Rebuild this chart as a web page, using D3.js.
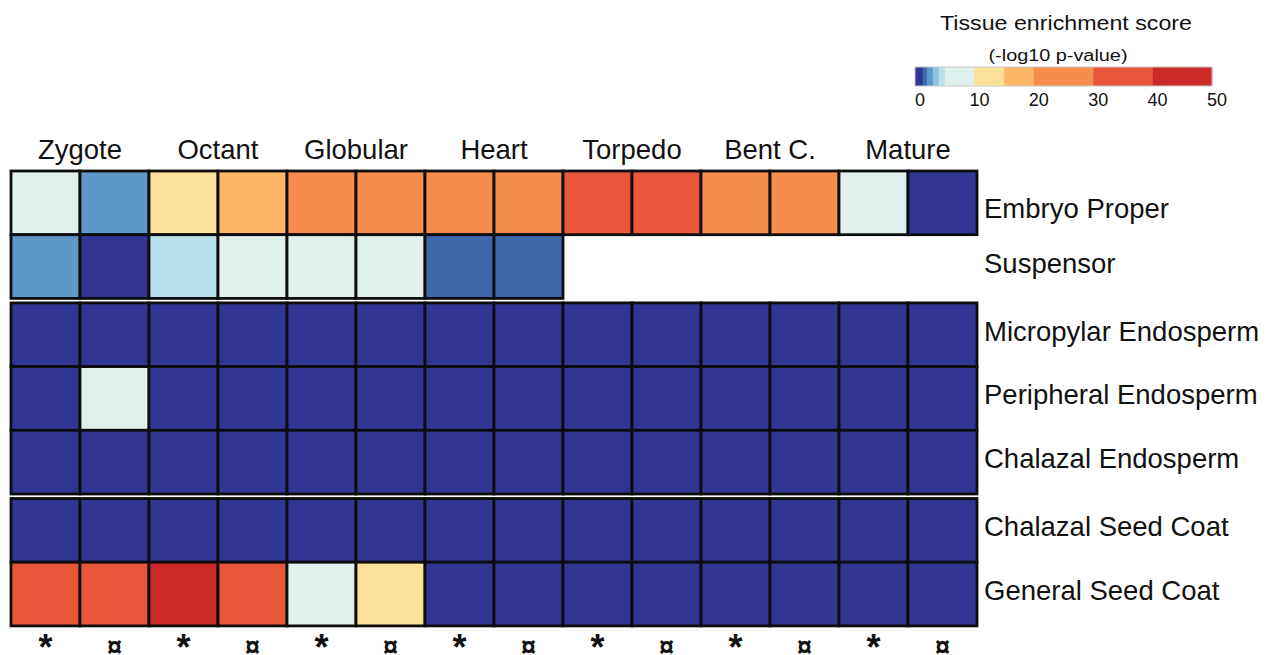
<!DOCTYPE html>
<html>
<head>
<meta charset="utf-8">
<script src="https://cdn.jsdelivr.net/npm/d3@7"></script>
<style>
  html, body { margin: 0; padding: 0; background: #fff; }
  svg { display: block; font-family: "Liberation Sans", Arial, Helvetica, sans-serif; }
</style>
</head>
<body>
<svg id="chart" width="1272" height="655"></svg>
<script>
// Developmental stages; each stage has two samples, marked * and ¤
const stages = ["Zygote", "Octant", "Globular", "Heart", "Torpedo", "Bent C.", "Mature"];
const sampleMarks = ["*", "¤"];
const columns = stages.flatMap(s => sampleMarks.map(m => `${s} ${m}`));

// Tissues, grouped into embryo / endosperm / seed coat blocks
const embryoTissues = ["Embryo Proper", "Suspensor"];
const endospermTissues = ["Micropylar Endosperm", "Peripheral Endosperm", "Chalazal Endosperm"];
const seedCoatTissues = ["Chalazal Seed Coat", "General Seed Coat"];
const tissueGroups = [embryoTissues, endospermTissues, seedCoatTissues];

// Tissue enrichment scores (-log10 p-value), one value per column; null = not sampled
const embryoProper        = [7, 2.5, 12, 17, 25, 25, 24, 24, 34, 35, 26, 25, 6, 0.5];
const suspensor           = [2.5, 0.8, 4.5, 7, 6.5, 6, 1.7, 1.6, null, null, null, null, null, null];
const micropylarEndosperm = [0, 0, 0, 0, 0, 0, 0, 0, 0, 0, 0, 0, 0, 0];
const peripheralEndosperm = [0, 6, 0, 0, 0, 0, 0, 0, 0, 0, 0, 0, 0, 0];
const chalazalEndosperm   = [0, 0, 0, 0, 0, 0, 0, 0, 0, 0, 0, 0, 0, 0];
const chalazalSeedCoat    = [0, 0, 0, 0, 0, 0, 0, 0, 0, 0, 0, 0, 0, 0];
const generalSeedCoat     = [33, 32, 43, 31, 7, 13, 0, 0, 0, 0, 0, 0, 0, 0];
const seriesValues = [embryoProper, suspensor, micropylarEndosperm, peripheralEndosperm,
                      chalazalEndosperm, chalazalSeedCoat, generalSeedCoat];

// Colour key
const scoreThresholds = [1.3, 2, 3, 4, 5, 10, 15, 20, 30, 40];
const scoreColors = ["#313593", "#3f67ac", "#5f97c6", "#8cc3de", "#b9e0ed", "#e0f0ec",
                     "#fce098", "#fdb667", "#f78c4f", "#e8573a", "#cc2a28"];
const legendTicks = [0, 10, 20, 30, 40, 50];
const legendDomain = [0, 50];

const svg = d3.select("#chart");
svg.append("rect").attr("width", 1272).attr("height", 655).attr("fill", "#fff");

const color = d3.scaleThreshold().domain(scoreThresholds).range(scoreColors);

// Layout
const x = d3.scaleBand().domain(columns).range([11, 977]).padding(0);
const rowHeight = 63.7, groupGap = 4.5, gridTop = 171;
const rows = [];
tissueGroups.forEach((g, gi) => g.forEach(t => rows.push({ tissue: t, group: gi })));
const slot = d3.scaleLinear().domain([0, rows.length]).range([gridTop, gridTop + rows.length * rowHeight]);
rows.forEach((r, i) => { r.y = slot(i) + r.group * groupGap; r.values = seriesValues[i]; });

// Heatmap cells
const cells = rows.flatMap(r => r.values.map((v, ci) => ({ row: r, col: columns[ci], value: v })))
  .filter(d => d.value !== null);

svg.append("g").selectAll("rect").data(cells).join("rect")
  .attr("x", d => x(d.col))
  .attr("y", d => d.row.y)
  .attr("width", x.bandwidth())
  .attr("height", rowHeight)
  .attr("fill", d => color(d.value))
  .attr("stroke", "#0d0d0d")
  .attr("stroke-width", 2.8);

// Stage headers, centred over each pair of columns
svg.append("g").selectAll("text").data(stages).join("text")
  .attr("x", (s, i) => x(columns[2 * i]) + x.bandwidth())
  .attr("y", 159)
  .attr("text-anchor", "middle")
  .attr("font-size", 27.5)
  .attr("fill", "#111")
  .text(d => d);

// Tissue labels (the first label sits a little lower in its row)
svg.append("g").selectAll("text").data(rows).join("text")
  .attr("x", 984)
  .attr("y", (d, i) => d.y + rowHeight / 2 + (i === 0 ? 15 : 6))
  .attr("font-size", 27.5)
  .attr("fill", "#111")
  .text(d => d.tissue);

// Sample marks under each column
svg.append("g").selectAll("text").data(columns).join("text")
  .attr("x", d => x(d) + x.bandwidth() / 2)
  .attr("y", (d, i) => i % 2 === 0 ? 660 : 656)
  .attr("text-anchor", "middle")
  .attr("font-weight", "bold")
  .attr("font-size", (d, i) => i % 2 === 0 ? 36 : 27)
  .attr("fill", "#111")
  .text(d => d.split(" ").pop());

// Colour key
const lx = d3.scaleLinear().domain(legendDomain).range([915, 1212]);
const bounds = [legendDomain[0], ...scoreThresholds, legendDomain[1]];
const segments = scoreColors.map((c, i) => ({ from: bounds[i], to: bounds[i + 1], color: c }));
const key = svg.append("g");
key.selectAll("rect.seg").data(segments).join("rect")
  .attr("class", "seg")
  .attr("x", d => lx(d.from))
  .attr("y", 67)
  .attr("width", d => lx(d.to) - lx(d.from) + 0.3)
  .attr("height", 19)
  .attr("fill", d => d.color);
key.append("rect")
  .attr("x", lx(legendDomain[0])).attr("y", 67)
  .attr("width", lx(legendDomain[1]) - lx(legendDomain[0])).attr("height", 19)
  .attr("fill", "none").attr("stroke", "#c8c8c8").attr("stroke-width", 1);

key.selectAll("text.tick").data(legendTicks).join("text")
  .attr("class", "tick")
  .attr("x", d => lx(d) + 5)
  .attr("y", 106)
  .attr("text-anchor", "middle")
  .attr("font-size", 18)
  .attr("fill", "#111")
  .text(d => d);

key.append("text")
  .attr("x", 1066).attr("y", 30)
  .attr("text-anchor", "middle")
  .attr("font-size", 21)
  .attr("textLength", 252).attr("lengthAdjust", "spacingAndGlyphs")
  .attr("fill", "#111")
  .text("Tissue enrichment score");
key.append("text")
  .attr("x", 1058).attr("y", 61)
  .attr("text-anchor", "middle")
  .attr("font-size", 16)
  .attr("textLength", 139).attr("lengthAdjust", "spacingAndGlyphs")
  .attr("fill", "#111")
  .text("(-log10 p-value)");
</script>
</body>
</html>
